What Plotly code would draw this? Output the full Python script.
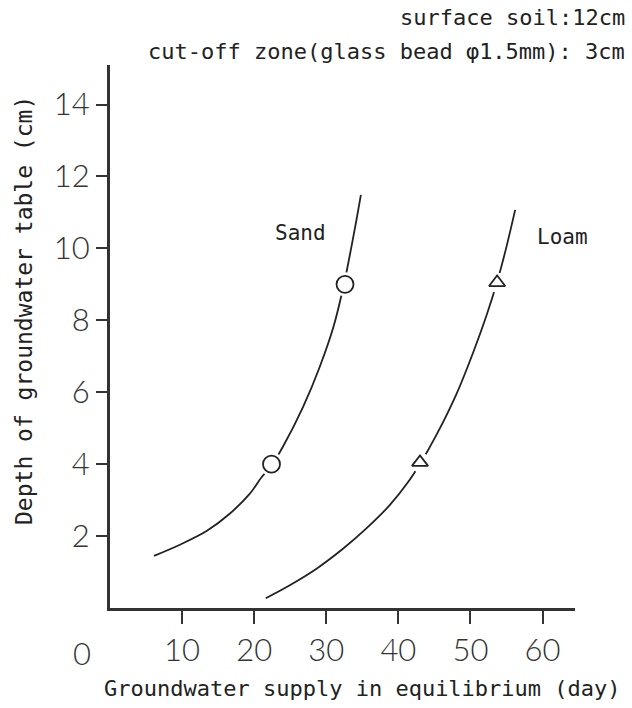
import plotly.graph_objects as go

# ---- data ----
sand_curve_x = [6.1, 9.7, 13.4, 16.6, 19.4, 21.0, 22.3, 24.0, 26.8, 29.1, 31.0, 32.5, 34.1, 34.8]
sand_curve_y = [1.45, 1.76, 2.14, 2.62, 3.18, 3.63, 3.93, 4.49, 5.60, 6.71, 7.82, 9.05, 10.70, 11.49]
sand_pts_x = [22.4, 32.6]
sand_pts_y = [4.0, 9.0]

loam_curve_x = [21.6, 25.0, 28.7, 32.4, 35.6, 38.8, 41.2, 43.1, 45.3, 48.1, 50.4, 52.2, 53.7, 55.0, 56.2]
loam_curve_y = [0.27, 0.64, 1.10, 1.66, 2.22, 2.86, 3.46, 4.04, 4.82, 5.97, 7.12, 8.12, 9.07, 10.05, 11.07]
loam_pts_x = [43.0, 53.7]
loam_pts_y = [4.05, 9.05]

x_ticks = [10, 20, 30, 40, 50, 60]
y_ticks = [2, 4, 6, 8, 10, 12, 14]

MONO = "DejaVu Sans Mono"
TICKF = "Lato"
INK = "#222222"

fig = go.Figure()

# curves
for cx, cy in ((sand_curve_x, sand_curve_y), (loam_curve_x, loam_curve_y)):
    fig.add_trace(go.Scatter(x=cx, y=cy, mode="lines",
                             line=dict(color=INK, width=1.8, shape="spline", smoothing=0.9),
                             hoverinfo="skip", showlegend=False))

# white halos to create gaps in the line around the markers
fig.add_trace(go.Scatter(x=sand_pts_x, y=sand_pts_y, mode="markers",
                         marker=dict(symbol="circle", size=24, color="white", line=dict(width=0)),
                         hoverinfo="skip", showlegend=False))
fig.add_trace(go.Scatter(x=loam_pts_x, y=loam_pts_y, mode="markers",
                         marker=dict(symbol="circle", size=20, color="white", line=dict(width=0)),
                         hoverinfo="skip", showlegend=False))

# markers
fig.add_trace(go.Scatter(x=sand_pts_x, y=sand_pts_y, mode="markers", name="Sand",
                         marker=dict(symbol="circle", size=17, color="white",
                                     line=dict(color=INK, width=1.8)),
                         showlegend=False))
fig.add_trace(go.Scatter(x=loam_pts_x, y=loam_pts_y, mode="markers", name="Loam",
                         marker=dict(symbol="triangle-up", size=14, color="white",
                                     line=dict(color=INK, width=1.8)),
                         showlegend=False))

tickfont = dict(family=TICKF, size=31, color="#333333", weight=300)

annotations = [
    dict(text="Sand", x=26.4, y=10.43, xref="x", yref="y", showarrow=False,
         font=dict(family=MONO, size=21, color=INK)),
    dict(text="Loam", x=62.8, y=10.32, xref="x", yref="y", showarrow=False,
         font=dict(family=MONO, size=21, color=INK)),
    dict(text="surface soil:12cm", x=1.112, y=1.0866, xref="paper", yref="paper",
         xanchor="right", yanchor="middle", showarrow=False,
         font=dict(family=MONO, size=22, color=INK)),
    dict(text="cut-off zone(glass bead φ1.5mm): 3cm", x=1.112, y=1.024, xref="paper", yref="paper",
         xanchor="right", yanchor="middle", showarrow=False,
         font=dict(family=MONO, size=22, color=INK)),
    dict(text="Groundwater supply in equilibrium (day)", x=(362 - 110) / 465, y=(608 - 688) / 543,
         xref="paper", yref="paper", xanchor="center", yanchor="middle", showarrow=False,
         font=dict(family=MONO, size=22, color=INK)),
    dict(text="Depth of groundwater table (cm)", x=(24 - 110) / 465, y=(608 - 311) / 543,
         xref="paper", yref="paper", xanchor="center", yanchor="middle", showarrow=False,
         textangle=-90, font=dict(family=MONO, size=23, color=INK)),
    dict(text="0", x=(82 - 110) / 465, y=(608 - 653) / 543, xref="paper", yref="paper",
         xanchor="center", yanchor="middle", showarrow=False, font=tickfont),
]

fig.update_layout(
    width=632, height=708,
    margin=dict(l=110, r=57, t=65, b=100),
    paper_bgcolor="white", plot_bgcolor="white",
    annotations=annotations,
    xaxis=dict(range=[0, 64.5], tickvals=x_ticks, ticktext=[str(v) for v in x_ticks],
               showgrid=False, zeroline=False, showline=True, linecolor="#333333", linewidth=3,
               ticks="outside", ticklen=13, tickwidth=2, tickcolor="#333333",
               tickfont=tickfont),
    yaxis=dict(range=[0, 15.1], tickvals=y_ticks, ticktext=[str(v) for v in y_ticks],
               showgrid=False, zeroline=False, showline=True, linecolor="#333333", linewidth=3,
               ticks="outside", ticklen=11, tickwidth=2, tickcolor="#333333",
               tickfont=tickfont),
)

fig.write_html("out.html")
